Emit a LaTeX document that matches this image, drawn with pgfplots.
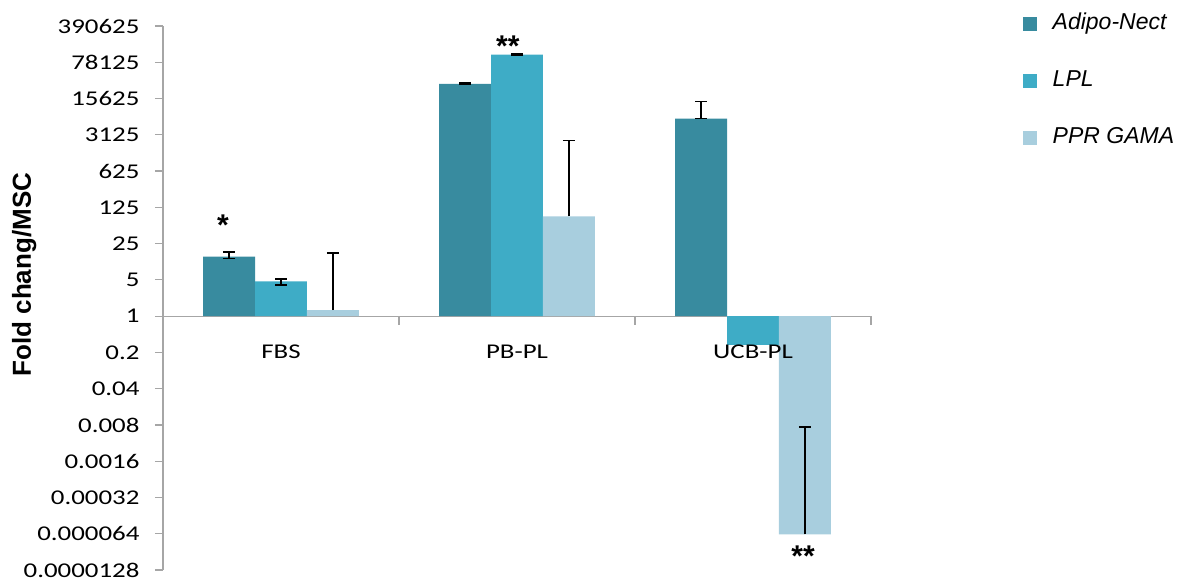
\documentclass[border=0pt]{standalone}
\usepackage{fontspec}
\usepackage{pgfplots}
\pgfplotsset{compat=1.18}
\setmainfont{Liberation Sans}
\newfontfamily\tickfont[FakeStretch=1.28]{Carlito}
\definecolor{cA}{HTML}{388B9F}
\definecolor{cB}{HTML}{3EACC6}
\definecolor{cC}{HTML}{A8CEDE}
\definecolor{axg}{HTML}{A6A6A6}
\begin{document}
\begin{tikzpicture}
\useasboundingbox (0,0) rectangle (1189bp,-582bp);
\begin{axis}[
  at={(163bp,-570bp)}, anchor=south west,
  scale only axis, width=708bp, height=544bp,
  clip=false, axis on top,
  xmin=-0.5, xmax=2.5,
  ymode=log, log basis y=5, ymin=0.0000128, ymax=390625,
  log origin y=0,
  axis y line=left, axis x line=bottom,
  axis line style={-, draw=axg, line width=1.2bp},
  x axis line style={draw=none},
  xtick={0,1,2}, xticklabels={FBS,PB-PL,UCB-PL},
  xtick style={draw=none},
  xticklabel style={font=\tickfont\fontsize{21bp}{24bp}\selectfont, anchor=base, yshift=219bp},
  ytick={0.0000128,0.000064,0.00032,0.0016,0.008,0.04,0.2,1,5,25,125,625,3125,15625,78125,390625},
  yticklabels={0.0000128,0.000064,0.00032,0.0016,0.008,0.04,0.2,1,5,25,125,625,3125,15625,78125,390625},
  yticklabel style={font=\tickfont\fontsize{21bp}{24bp}\selectfont, xshift=-12bp},
  ytick style={draw=axg, line width=1.2bp},
  yminorticks=false,
  tick align=outside, major tick length=8bp,
  ylabel={\bfseries\fontsize{26bp}{30bp}\selectfont Fold chang/MSC},
  ylabel style={at={(axis description cs:-0.196,0.543)}, anchor=center},
  legend style={at={(axis description cs:1.2143,1.0233)}, anchor=north west, draw=none, fill=none,
    inner sep=0pt, outer sep=0pt, row sep=36bp,
    font=\itshape\fontsize{23bp}{27bp}\selectfont,
    nodes={inner sep=0pt, text height=16bp, text depth=5bp},
    /tikz/every odd column/.append style={column sep=16bp}},
  legend cell align=left,
  legend image code/.code={\fill[#1] (0bp,-7bp) rectangle (14bp,7bp);},
]
\draw[axg, line width=1.2bp] (axis cs:-0.5,1) -- (axis cs:2.5,1);
\draw[axg, line width=1.2bp] (axis cs:0.5,1) -- ([yshift=-9bp]axis cs:0.5,1);
\draw[axg, line width=1.2bp] (axis cs:1.5,1) -- ([yshift=-9bp]axis cs:1.5,1);
\draw[axg, line width=1.2bp] (axis cs:2.5,1) -- ([yshift=-9bp]axis cs:2.5,1);

\addplot[ybar, bar width=0.22, bar shift=0pt, fill=cA, draw=none] coordinates {(-0.22,14) (0.78,30000) (1.78,6400)};
\addplot[ybar, bar width=0.22, bar shift=0pt, fill=cB, draw=none] coordinates {(0,4.7) (1,110000) (2,0.28)};
\addplot[ybar, bar width=0.22, bar shift=0pt, fill=cC, draw=none] coordinates {(0.22,1.3) (1.22,84) (2.22,0.000062)};
\legend{Adipo-Nect, LPL, PPR GAMA}

\addplot[forget plot, draw=none, mark=none,
  error bars/.cd, y dir=both, y explicit,
  error bar style={draw=black, line width=1.6bp},
  error mark options={draw=black, rotate=90, mark size=6bp, line width=1.6bp}]
  table[x=x, y=y, y error plus=ep, y error minus=em] {
x y ep em
-0.22 14 3 1
0.78 30000 1500 1000
1.78 6400 7340 0
0 4.7 0.5 0.7
1 110000 2000 2000
};
\addplot[forget plot, draw=none, mark=none,
  error bars/.cd, y dir=plus, y explicit,
  error bar style={draw=black, line width=1.6bp},
  error mark options={draw=black, rotate=90, mark size=6bp, line width=1.6bp}]
  table[x=x, y=y, y error plus=ep] {
x y ep
0.22 1.3 15.1
1.22 84 2330
2.22 0.000062 0.00732
};

\node[font=\bfseries\fontsize{30bp}{34bp}\selectfont, anchor=base, inner sep=0pt] at (axis description cs:0.0847,0.615) {*};
\node[font=\bfseries\fontsize{30bp}{34bp}\selectfont, anchor=base, inner sep=0pt] at (axis description cs:0.487,0.944) {**};
\node[font=\bfseries\fontsize{30bp}{34bp}\selectfont, anchor=base, inner sep=0pt] at (axis description cs:0.904,0.0066) {**};
\end{axis}
\end{tikzpicture}
\end{document}
